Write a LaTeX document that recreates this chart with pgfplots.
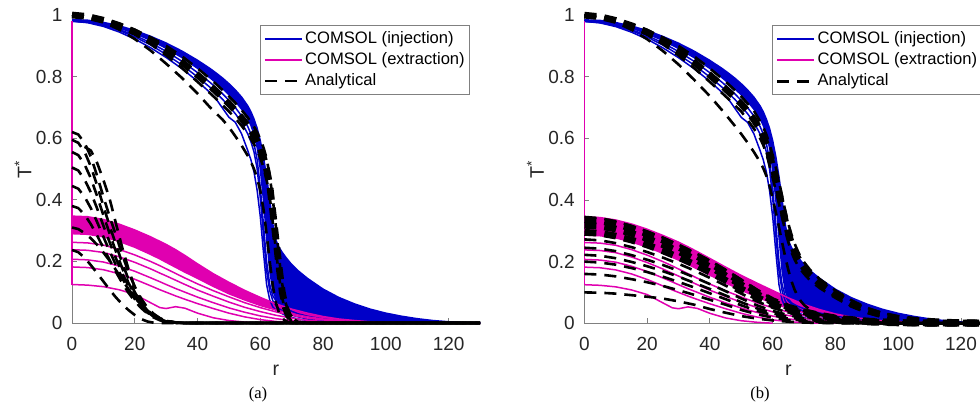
\documentclass[border=0pt]{standalone}
\usepackage{pgfplots}
\pgfplotsset{compat=1.18}
\usepackage{pgfplotstable}
\usepgfplotslibrary{fillbetween}
\usepackage{fontspec}
\setmainfont{Liberation Sans}
\newfontfamily\serifcap{Liberation Serif}
\definecolor{cblue}{RGB}{0,0,200}
\definecolor{cmag}{RGB}{224,0,176}

% COMSOL injection (U,B band edges; L1-L3 separate curves) and analytical injection (ia*, ib*)
\pgfplotstableread{
r   U     B     L1    L2    L3    ia1   ia2   ia3   ia4   ib1   ib2   ib3   ib4
0   0.985 0.982 0.980 0.980 0.980 1.000 1.000 1.000 1.000 1.000 1.000 1.000 1.000
5   0.983 0.979 0.975 0.976 0.977 0.996 0.995 0.994 0.993 0.996 0.995 0.994 0.993
10  0.976 0.971 0.963 0.966 0.968 0.986 0.983 0.980 0.977 0.986 0.983 0.980 0.977
15  0.965 0.958 0.945 0.950 0.953 0.971 0.966 0.961 0.953 0.971 0.966 0.961 0.953
20  0.950 0.940 0.922 0.929 0.934 0.952 0.945 0.937 0.922 0.952 0.945 0.937 0.922
25  0.931 0.918 0.894 0.903 0.910 0.928 0.917 0.906 0.885 0.928 0.917 0.906 0.884
30  0.909 0.892 0.862 0.872 0.882 0.900 0.884 0.869 0.842 0.900 0.884 0.869 0.840
35  0.883 0.862 0.826 0.838 0.850 0.866 0.847 0.828 0.796 0.866 0.847 0.828 0.790
40  0.853 0.827 0.785 0.799 0.813 0.827 0.805 0.783 0.745 0.827 0.805 0.783 0.737
44  0.826 0.796 0.748 0.765 0.781 0.793 0.770 0.746 0.700 0.793 0.770 0.746 0.690
46  0.811 0.779 0.726 0.746 0.763 0.775 0.751 0.727 0.680 0.775 0.751 0.727 0.665
48  0.795 0.761 0.697 0.726 0.744 0.756 0.732 0.707 0.660 0.756 0.732 0.707 0.640
50  0.777 0.741 0.668 0.704 0.723 0.736 0.712 0.687 0.636 0.736 0.712 0.687 0.614
52  0.757 0.720 0.652 0.680 0.700 0.715 0.690 0.665 0.607 0.713 0.688 0.660 0.586
54  0.734 0.695 0.615 0.652 0.673 0.692 0.666 0.641 0.577 0.690 0.661 0.632 0.556
56  0.705 0.663 0.560 0.614 0.638 0.667 0.640 0.614 0.543 0.655 0.628 0.600 0.523
57  0.686 0.642 0.530 0.589 0.614 0.653 0.625 0.598 0.523 0.636 0.607 0.578 0.503
58  0.662 0.613 0.490 0.555 0.582 0.637 0.609 0.580 0.500 0.612 0.580 0.550 0.478
59  0.632 0.570 0.430 0.500 0.530 0.619 0.590 0.560 0.470 0.580 0.545 0.512 0.445
60  0.592 0.500 0.345 0.405 0.440 0.597 0.567 0.536 0.430 0.545 0.508 0.472 0.405
61  0.540 0.400 0.230 0.285 0.320 0.570 0.538 0.506 0.370 0.505 0.468 0.430 0.360
62  0.475 0.280 0.125 0.170 0.200 0.535 0.500 0.465 0.290 0.460 0.425 0.388 0.312
63  0.400 0.170 0.075 0.105 0.125 0.478 0.448 0.410 0.200 0.412 0.378 0.343 0.262
64  0.320 0.105 0.052 0.072 0.088 0.400 0.360 0.325 0.120 0.365 0.332 0.300 0.215
65  0.268 0.078 0.042 0.056 0.072 0.310 0.270 0.235 0.065 0.322 0.292 0.262 0.172
66  0.245 0.066 0.035 0.046 0.062 0.210 0.180 0.150 0.032 0.287 0.258 0.230 0.136
67  0.229 0.060 0.030 0.040 0.055 0.125 0.100 0.080 0.015 0.258 0.232 0.206 0.108
68  0.215 0.055 0.025 0.034 0.048 0.068 0.050 0.038 0.007 0.234 0.212 0.188 0.087
69  0.202 0.051 0.021 0.030 0.043 0.034 0.024 0.017 0.003 0.214 0.195 0.173 0.071
70  0.190 0.047 0.018 0.026 0.038 0.017 0.011 0.007 0.001 0.198 0.180 0.160 0.059
72  0.170 0.041 0.013 0.020 0.030 0.004 0.003 0.002 0.000 0.172 0.156 0.138 0.043
75  0.145 0.033 0.008 0.013 0.022 0.001 0.000 0.000 0.000 0.143 0.129 0.114 0.028
80  0.110 0.023 0.004 0.007 0.013 0.000 0.000 0.000 0.000 0.106 0.094 0.082 0.014
85  0.083 0.015 0.002 0.004 0.007 0.000 0.000 0.000 0.000 0.075 0.064 0.054 0.007
90  0.062 0.010 0.001 0.002 0.004 0.000 0.000 0.000 0.000 0.050 0.041 0.034 0.003
95  0.045 0.006 0.000 0.001 0.002 0.000 0.000 0.000 0.000 0.033 0.026 0.021 0.001
100 0.032 0.004 0.000 0.000 0.001 0.000 0.000 0.000 0.000 0.021 0.016 0.012 0.000
105 0.022 0.002 0.000 0.000 0.000 0.000 0.000 0.000 0.000 0.013 0.010 0.007 0.000
110 0.014 0.001 0.000 0.000 0.000 0.000 0.000 0.000 0.000 0.008 0.006 0.004 0.000
115 0.008 0.000 0.000 0.000 0.000 0.000 0.000 0.000 0.000 0.005 0.003 0.002 0.000
120 0.004 0.000 0.000 0.000 0.000 0.000 0.000 0.000 0.000 0.003 0.002 0.001 0.000
125 0.002 0.000 0.000 0.000 0.000 0.000 0.000 0.000 0.000 0.001 0.001 0.000 0.000
130 0.001 0.000 0.000 0.000 0.000 0.000 0.000 0.000 0.000 0.000 0.000 0.000 0.000
}\tblue

% COMSOL extraction: band edges for (a) and (b), separate curves m0-m4
\pgfplotstableread{
r   Mta   Mba   Mtb   Mbb   m0    m1    m2    m3    m4
0   0.347 0.290 0.345 0.286 0.125 0.182 0.207 0.238 0.262
5   0.345 0.288 0.343 0.284 0.123 0.180 0.205 0.236 0.260
10  0.336 0.280 0.335 0.277 0.118 0.173 0.198 0.229 0.253
15  0.321 0.265 0.322 0.264 0.108 0.160 0.185 0.215 0.239
20  0.302 0.246 0.305 0.247 0.093 0.142 0.168 0.197 0.221
25  0.280 0.223 0.285 0.227 0.066 0.121 0.147 0.176 0.200
28  0.265 0.208 0.272 0.214 0.050 0.108 0.134 0.162 0.186
30  0.255 0.197 0.263 0.205 0.047 0.100 0.125 0.153 0.176
33  0.238 0.181 0.248 0.191 0.053 0.088 0.112 0.139 0.161
36  0.219 0.165 0.232 0.176 0.048 0.077 0.100 0.125 0.146
40  0.192 0.145 0.210 0.156 0.032 0.063 0.084 0.107 0.127
45  0.160 0.119 0.182 0.131 0.017 0.047 0.066 0.087 0.105
50  0.132 0.095 0.155 0.107 0.008 0.032 0.049 0.068 0.085
55  0.106 0.075 0.130 0.085 0.003 0.020 0.035 0.051 0.066
60  0.083 0.057 0.106 0.065 0.000 0.011 0.023 0.037 0.050
65  0.062 0.042 0.082 0.048 nan   0.005 0.014 0.025 0.036
70  0.045 0.030 0.061 0.034 nan   0.002 0.008 0.016 0.025
75  0.032 0.020 0.044 0.023 nan   0.000 0.004 0.009 0.016
80  0.021 0.013 0.030 0.015 nan   nan   0.001 0.005 0.010
85  0.013 0.008 0.020 0.009 nan   nan   0.000 0.002 0.006
90  0.008 0.004 0.013 0.005 nan   nan   nan   0.001 0.003
95  0.004 0.002 0.008 0.003 nan   nan   nan   0.000 0.001
100 0.002 0.001 0.005 0.001 nan   nan   nan   nan   0.000
110 0.001 0.000 0.002 0.000 nan   nan   nan   nan   nan
120 0.000 0.000 0.001 0.000 nan   nan   nan   nan   nan
130 0.000 0.000 0.000 0.000 nan   nan   nan   nan   nan
}\tmag

% Analytical extraction, panel (a)
\pgfplotstableread{
r   e1    e2    e3    e4    e5    e6    e7    e8    e9
0   0.620 0.595 nan   0.555 0.505 0.445 0.380 0.310 0.237
2   0.612 0.585 nan   0.545 0.495 0.436 0.373 0.305 0.230
4   0.585 0.556 0.572 0.515 0.466 0.410 0.352 0.292 0.212
6   0.540 0.508 0.560 0.470 0.424 0.373 0.321 0.275 0.188
8   0.478 0.447 0.520 0.412 0.372 0.328 0.284 0.254 0.162
10  0.410 0.380 0.465 0.350 0.316 0.280 0.244 0.229 0.135
12  0.345 0.315 0.403 0.290 0.262 0.233 0.204 0.202 0.108
14  0.285 0.255 0.323 0.232 0.210 0.188 0.166 0.172 0.083
16  0.222 0.195 0.245 0.178 0.162 0.146 0.130 0.140 0.061
18  0.165 0.142 0.175 0.130 0.120 0.109 0.098 0.110 0.042
20  0.118 0.100 0.115 0.092 0.085 0.078 0.071 0.083 0.026
22  0.080 0.066 0.070 0.061 0.057 0.053 0.049 0.060 0.013
24  0.050 0.041 0.042 0.038 0.036 0.034 0.031 0.041 0.005
26  0.030 0.024 0.025 0.022 0.021 0.020 0.018 0.026 0.001
28  0.016 0.012 0.014 0.011 0.011 0.010 0.009 0.015 0.000
30  0.007 0.005 0.007 0.005 0.005 0.004 0.004 0.008 0.000
33  0.002 0.001 0.001 0.001 0.001 0.001 0.001 0.002 0.000
36  0.000 0.000 0.000 0.000 0.000 0.000 0.000 0.000 0.000
40  0.000 0.000 0.000 0.000 0.000 0.000 0.000 0.000 0.000
130 0.000 0.000 0.000 0.000 0.000 0.000 0.000 0.000 0.000
}\text

% Analytical extraction, panel (b)
\pgfplotstableread{
r   eb1   eb2   eb3   eb4   eb5   eb6   eb7   eb8   eb9   eb10
0   0.100 0.160 0.200 0.222 0.245 0.272 0.295 0.318 0.335 0.345
5   0.099 0.158 0.197 0.219 0.242 0.269 0.292 0.315 0.332 0.341
10  0.096 0.152 0.190 0.211 0.234 0.260 0.283 0.306 0.322 0.331
15  0.091 0.143 0.179 0.199 0.221 0.247 0.270 0.292 0.308 0.316
20  0.086 0.133 0.166 0.185 0.206 0.231 0.254 0.275 0.290 0.298
25  0.080 0.121 0.151 0.169 0.189 0.213 0.235 0.255 0.270 0.278
30  0.071 0.107 0.134 0.151 0.170 0.193 0.214 0.233 0.247 0.255
35  0.060 0.092 0.116 0.131 0.149 0.171 0.191 0.209 0.222 0.230
40  0.046 0.076 0.097 0.111 0.127 0.147 0.166 0.183 0.195 0.203
45  0.034 0.060 0.078 0.090 0.104 0.122 0.139 0.154 0.165 0.173
50  0.023 0.043 0.058 0.068 0.080 0.096 0.111 0.124 0.133 0.141
55  0.015 0.029 0.040 0.048 0.058 0.071 0.084 0.094 0.101 0.108
60  0.009 0.018 0.026 0.032 0.040 0.050 0.060 0.068 0.073 0.078
65  0.005 0.010 0.015 0.020 0.026 0.034 0.042 0.048 0.052 0.056
70  0.002 0.005 0.008 0.011 0.016 0.022 0.029 0.034 0.037 0.040
75  0.001 0.002 0.004 0.006 0.009 0.014 0.019 0.023 0.026 0.028
80  0.000 0.001 0.002 0.003 0.005 0.008 0.012 0.015 0.017 0.019
90  0.000 0.000 0.000 0.001 0.001 0.002 0.004 0.006 0.007 0.008
100 0.000 0.000 0.000 0.000 0.000 0.001 0.001 0.002 0.002 0.003
110 0.000 0.000 0.000 0.000 0.000 0.000 0.000 0.000 0.001 0.001
130 0.000 0.000 0.000 0.000 0.000 0.000 0.000 0.000 0.000 0.000
}\textb

\pgfplotsset{
  panel/.style={
    scale only axis, width=204pt, height=154pt,
    xmin=0, xmax=130, ymin=0, ymax=1,
    axis x line=bottom, axis y line=left,
    axis line style={-, draw=black!50, line width=0.5pt},
    tick align=inside, major tick length=2.5pt,
    tick style={black!50, line width=0.5pt},
    xtick={0,20,40,60,80,100,120}, ytick={0,0.2,0.4,0.6,0.8,1},
    /pgf/number format/assume math mode=true,
    ticklabel style={font=\fontsize{9.5}{11}\selectfont, text=black!85},
    xticklabel style={yshift=-3.4pt},
    yticklabel style={xshift=-1.3pt},
    xlabel={r}, ylabel={T\textsuperscript{*}},
    label style={font=\fontsize{9.8}{11}\selectfont, text=black!85},
    xlabel style={at={(axis description cs:0.5,-0.1526)}, anchor=center},
    ylabel style={at={(axis description cs:-0.1201,0.5)}, anchor=center},
    clip=false,
    legend style={at={(axis description cs:0.461,0.9675)}, anchor=north west,
      draw=black!50, line width=0.5pt, fill=white,
      font=\fontsize{8.3}{9.5}\selectfont,
      inner xsep=1.5pt, inner ysep=1.5pt, row sep=0pt,
      nodes={inner ysep=1.5pt, inner xsep=1pt},
      cells={anchor=west}},
    legend image code/.code={\draw[#1] (0pt,0pt) -- (18.5pt,0pt);},
  },
  bl/.style={cblue, line width=0.75pt, forget plot},
  mg/.style={cmag, line width=0.75pt, forget plot},
  dsh/.style={black, line width=1.3pt, dash pattern=on 6pt off 4pt, forget plot},
  dshk/.style={black, line width=3.4pt, dash pattern=on 6pt off 4pt, forget plot},
}

\begin{document}
\begin{tikzpicture}
% ---------------- panel (a) ----------------
\begin{axis}[panel, at={(36pt,42.5pt)}, anchor=south west]
\addlegendimage{cblue, line width=1pt}\addlegendentry{COMSOL (injection)}
\addlegendimage{cmag, line width=1pt}\addlegendentry{COMSOL (extraction)}
\addlegendimage{black, line width=1.3pt, dash pattern=on 6pt off 4pt}\addlegendentry{Analytical}
\addplot[name path=Ua, draw=none, forget plot] table[x=r,y=U]{\tblue};
\addplot[name path=Ba, draw=none, forget plot] table[x=r,y=B]{\tblue};
\addplot[fill=cblue, draw=none, forget plot] fill between[of=Ua and Ba];
\addplot[bl] table[x=r,y=U]{\tblue};
\addplot[bl] table[x=r,y=B]{\tblue};
\addplot[bl] table[x=r,y=L3]{\tblue};
\addplot[bl] table[x=r,y=L2]{\tblue};
\addplot[bl] table[x=r,y=L1]{\tblue};
\addplot[name path=Mta, draw=none, forget plot] table[x=r,y=Mta]{\tmag};
\addplot[name path=Mba, draw=none, forget plot] table[x=r,y=Mba]{\tmag};
\addplot[fill=cmag, draw=none, forget plot] fill between[of=Mta and Mba];
\addplot[mg] table[x=r,y=Mta]{\tmag};
\addplot[mg] table[x=r,y=Mba]{\tmag};
\addplot[mg] table[x=r,y=m4]{\tmag};
\addplot[mg] table[x=r,y=m3]{\tmag};
\addplot[mg] table[x=r,y=m2]{\tmag};
\addplot[mg] table[x=r,y=m1]{\tmag};
\addplot[mg] table[x=r,y=m0]{\tmag};
\addplot[mg] coordinates {(0,0.125) (0,0.98)};
\addplot[dsh] table[x=r,y=e1]{\text};
\addplot[dsh] table[x=r,y=e2]{\text};
\addplot[dsh] table[x=r,y=e3]{\text};
\addplot[dsh] table[x=r,y=e4]{\text};
\addplot[dsh] table[x=r,y=e5]{\text};
\addplot[dsh] table[x=r,y=e6]{\text};
\addplot[dsh] table[x=r,y=e7]{\text};
\addplot[dsh] table[x=r,y=e8]{\text};
\addplot[dsh] table[x=r,y=e9]{\text};
\addplot[dsh] table[x=r,y=ia1]{\tblue};
\addplot[dshk, restrict x to domain=0:70] table[x=r,y=ia2]{\tblue};
\addplot[dsh] table[x=r,y=ia3]{\tblue};
\addplot[dsh] table[x=r,y=ia4]{\tblue};
\end{axis}
% ---------------- panel (b) ----------------
\begin{axis}[panel, at={(292.2pt,42.4pt)}, anchor=south west]
\addlegendimage{cblue, line width=1pt}\addlegendentry{COMSOL (injection)}
\addlegendimage{cmag, line width=1pt}\addlegendentry{COMSOL (extraction)}
\addlegendimage{black, line width=1.3pt, dash pattern=on 6pt off 4pt}\addlegendentry{Analytical}
\addplot[name path=Ub, draw=none, forget plot] table[x=r,y=U]{\tblue};
\addplot[name path=Bb, draw=none, forget plot] table[x=r,y=B]{\tblue};
\addplot[fill=cblue, draw=none, forget plot] fill between[of=Ub and Bb];
\addplot[bl] table[x=r,y=U]{\tblue};
\addplot[bl] table[x=r,y=B]{\tblue};
\addplot[bl] table[x=r,y=L3]{\tblue};
\addplot[bl] table[x=r,y=L2]{\tblue};
\addplot[bl] table[x=r,y=L1]{\tblue};
\addplot[name path=Mtb, draw=none, forget plot] table[x=r,y=Mtb]{\tmag};
\addplot[name path=Mbb, draw=none, forget plot] table[x=r,y=Mbb]{\tmag};
\addplot[fill=cmag, draw=none, forget plot] fill between[of=Mtb and Mbb];
\addplot[mg] table[x=r,y=Mtb]{\tmag};
\addplot[mg] table[x=r,y=Mbb]{\tmag};
\addplot[mg] table[x=r,y=m4]{\tmag};
\addplot[mg] table[x=r,y=m3]{\tmag};
\addplot[mg] table[x=r,y=m2]{\tmag};
\addplot[mg] table[x=r,y=m1]{\tmag};
\addplot[mg] table[x=r,y=m0]{\tmag};
\addplot[mg] coordinates {(0,0.125) (0,0.98)};
\addplot[dsh] table[x=r,y=eb1]{\textb};
\addplot[dsh] table[x=r,y=eb2]{\textb};
\addplot[dsh] table[x=r,y=eb3]{\textb};
\addplot[dsh] table[x=r,y=eb4]{\textb};
\addplot[dsh] table[x=r,y=eb5]{\textb};
\addplot[dsh] table[x=r,y=eb6]{\textb};
\addplot[dshk] table[x=r,y=eb7]{\textb};
\addplot[dshk] table[x=r,y=eb8]{\textb};
\addplot[dshk] table[x=r,y=eb9]{\textb};
\addplot[dsh] table[x=r,y=eb10]{\textb};
\addplot[dsh] table[x=r,y=ib1]{\tblue};
\addplot[dshk] table[x=r,y=ib2]{\tblue};
\addplot[dsh] table[x=r,y=ib3]{\tblue};
\addplot[dsh] table[x=r,y=ib4]{\tblue};
\end{axis}
\node[font=\serifcap\fontsize{8.3}{9}\selectfont] at (129pt,6.5pt) {(a)};
\node[font=\serifcap\fontsize{8.3}{9}\selectfont] at (380pt,6.5pt) {(b)};
\pgfresetboundingbox
\useasboundingbox (0,0) rectangle (490pt,204pt);
\end{tikzpicture}
\end{document}
